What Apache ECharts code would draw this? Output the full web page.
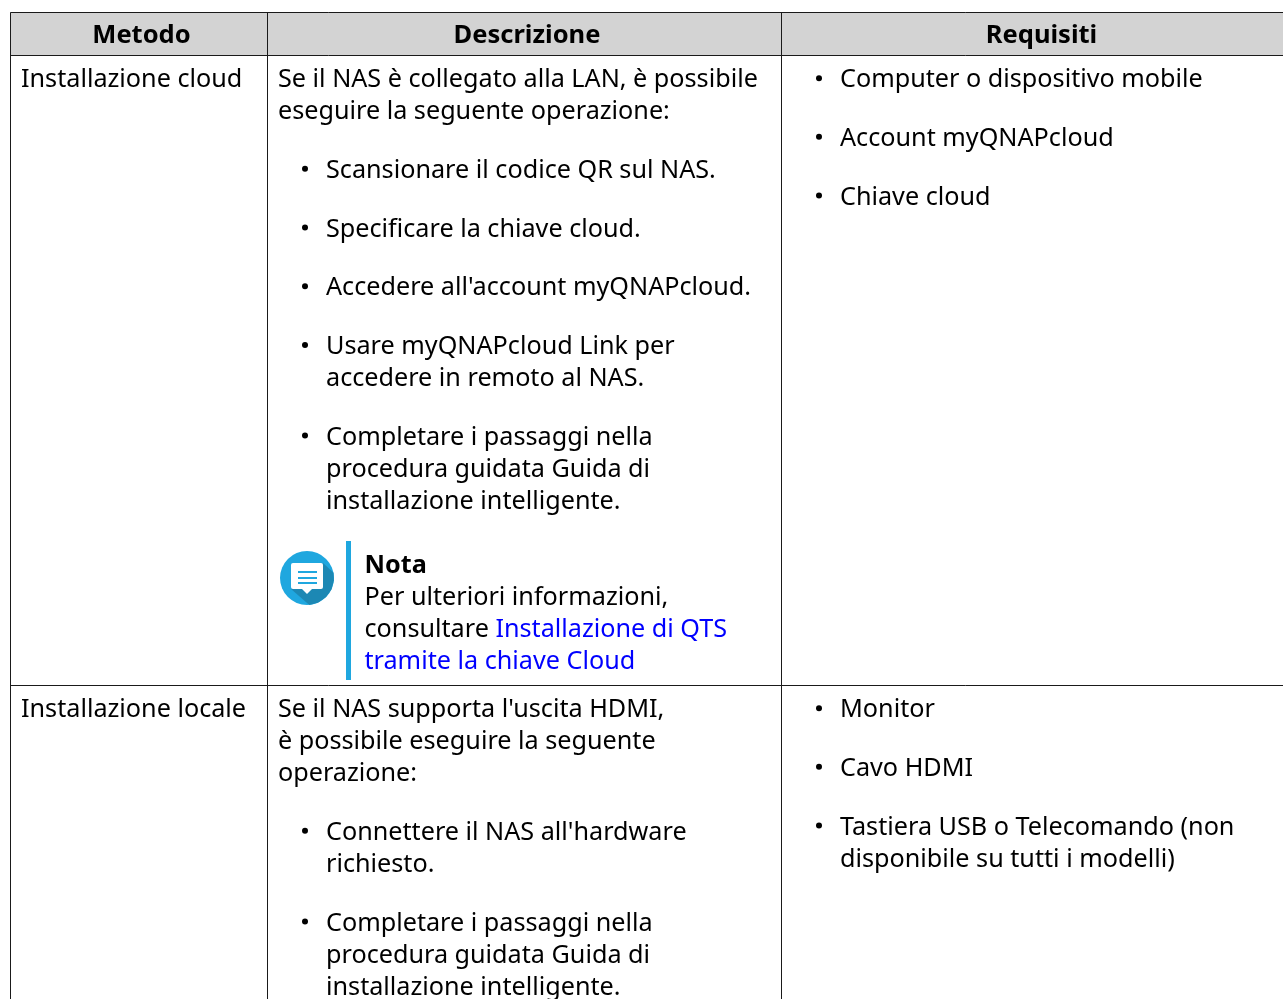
<!DOCTYPE html>
<html><head><meta charset="utf-8">
<style>html,body{margin:0;padding:0;background:#fff;overflow:hidden}#c{width:1283px;height:999px}</style>
<script src="https://cdn.jsdelivr.net/npm/echarts@6/dist/echarts.min.js"></script>
</head><body><div id="c"></div>
<script>
const headers = ['Metodo','Descrizione','Requisiti'];
const methods = ['Installazione cloud','Installazione locale'];
const cloudIntro = ['Se il NAS è collegato alla LAN, è possibile','eseguire la seguente operazione:'];
const cloudSteps = [
  ['Scansionare il codice QR sul NAS.'],
  ['Specificare la chiave cloud.'],
  ["Accedere all'account myQNAPcloud."],
  ['Usare myQNAPcloud Link per','accedere in remoto al NAS.'],
  ['Completare i passaggi nella','procedura guidata Guida di','installazione intelligente.']
];
const noteTitle = 'Nota';
const noteLines = ['Per ulteriori informazioni,','consultare {l|Installazione di QTS}','{l|tramite la chiave Cloud}'];
const cloudReqs = [['Computer o dispositivo mobile'],['Account myQNAPcloud'],['Chiave cloud']];
const localIntro = ["Se il NAS supporta l'uscita HDMI,",'è possibile eseguire la seguente','operazione:'];
const localSteps = [
  ["Connettere il NAS all'hardware",'richiesto.'],
  ['Completare i passaggi nella','procedura guidata Guida di','installazione intelligente.']
];
const localReqs = [['Monitor'],['Cavo HDMI'],['Tastiera USB o Telecomando (non','disponibile su tutti i modelli)']];

const FONT='"Noto Sans"', SIZE=25.2, HEAD_SIZE=25.5, LH=32, GAP=26.67;
const X={left:10,c1:267,c2:781,right:1283,top:12,head:55,row:685,bottom:999};
const ink='#000000', accent='#1fa7df';
const items=[]; // flat mark list; positions come from the flow layout below
function txt(x,y,t,o){items.push(Object.assign({k:'t',x,y,t},o||{}));}
function flowPara(x,y,lines){lines.forEach((l,i)=>txt(x,y+i*LH,l));return y+lines.length*LH+GAP;}
function flowList(bx,x,y,list){list.forEach(ls=>{items.push({k:'b',x:bx,y:y-2});y=flowPara(x,y,ls);});return y;}

// backgrounds and rules
items.push({k:'r',x:X.left,y:X.top,w:X.right-X.left,h:X.head-X.top,fill:'#d3d3d3'});
[X.top,X.head,X.row].forEach(y=>items.push({k:'l',x1:X.left,y1:y,x2:X.right,y2:y}));
[X.left,X.c1,X.c2].forEach(x=>items.push({k:'l',x1:x,y1:X.top,x2:x,y2:X.bottom}));
// header
[141.5,527,1041.5].forEach((x,i)=>txt(x,36,headers[i],{bold:true,align:'center',size:HEAD_SIZE}));
// row 1
const r1=X.head+25.2, r2=X.row+25.2;
txt(21,r1,methods[0]); txt(21,r2,methods[1]);
let y=flowPara(278,r1,cloudIntro);
y=flowList(305,326,y,cloudSteps);
const noteY=y+1;
items.push({k:'note',x:307,y:578});
items.push({k:'r',x:346,y:541,w:5,h:139,fill:accent});
txt(364.5,noteY+5,noteTitle,{bold:true});
noteLines.forEach((l,i)=>txt(364.5,noteY+5+(i+1)*LH,l));
flowList(819,840,r1,cloudReqs);
// row 2
y=flowPara(278,r2,localIntro);
flowList(305,326,y,localSteps);
flowList(819,840,r2,localReqs);

function render(params,api){
  const d=items[api.value(0)];
  const P=(a,b)=>api.coord([a,b]);
  if(d.k==='r'){const p=P(d.x,d.y);return {type:'rect',shape:{x:p[0],y:p[1],width:d.w,height:d.h},style:{fill:d.fill}};}
  if(d.k==='l'){const a=P(d.x1,d.y1),b=P(d.x2,d.y2);return {type:'line',shape:{x1:a[0]+.5,y1:a[1]+.5,x2:b[0]+.5,y2:b[1]+.5},style:{stroke:'#1a1a1a',lineWidth:1}};}
  if(d.k==='b'){const p=P(d.x,d.y);return {type:'circle',shape:{cx:p[0],cy:p[1],r:3},style:{fill:ink}};}
  if(d.k==='t'){const p=P(d.x,d.y);const weight=d.bold?'bold':'normal';const s=d.size||SIZE;
    return {type:'text',x:p[0],y:p[1],style:{text:d.t,fill:ink,font:weight+' '+s+'px '+FONT,
      textAlign:d.align||'left',textVerticalAlign:'middle',
      rich:{l:{fill:'#0000ff',font:weight+' '+s+'px '+FONT}}}};}
  if(d.k==='note'){const c=P(d.x,d.y),cx=c[0],cy=c[1],R=27;const shadow=[[16,-15]];
    [-11,5,25,45,65,85].forEach(a=>shadow.push([R*Math.cos(a*Math.PI/180),R*Math.sin(a*Math.PI/180)]));
    shadow.push([-16,11]);
    const ch=[{type:'circle',shape:{cx,cy,r:R},style:{fill:accent}},
      {type:'polygon',shape:{points:shadow.map(p=>[cx+p[0],cy+p[1]])},style:{fill:'#1c88b4'}},
      {type:'rect',shape:{x:cx-16,y:cy-15,width:32,height:26,r:2},style:{fill:'#fff'}},
      {type:'polygon',shape:{points:[[5,11],[0,16],[-5,11]].map(p=>[cx+p[0],cy+p[1]])},style:{fill:'#fff'}}];
    [-7,-1,4].forEach(o=>ch.push({type:'rect',shape:{x:cx-9,y:cy+o,width:19,height:2},style:{fill:accent}}));
    return {type:'group',children:ch};}
}
const chart=echarts.init(document.getElementById('c'),null,{renderer:'canvas'});
chart.setOption({animation:false,backgroundColor:'#fff',
  grid:{left:0,right:0,top:0,bottom:0},
  xAxis:{type:'value',min:0,max:1283,show:false},
  yAxis:{type:'value',min:0,max:999,inverse:true,show:false},
  series:[{type:'custom',coordinateSystem:'cartesian2d',clip:true,silent:true,renderItem:render,
    encode:{x:1,y:2},data:items.map((d,i)=>[i,d.x||0,d.y||0])}]
});
</script></body></html>
